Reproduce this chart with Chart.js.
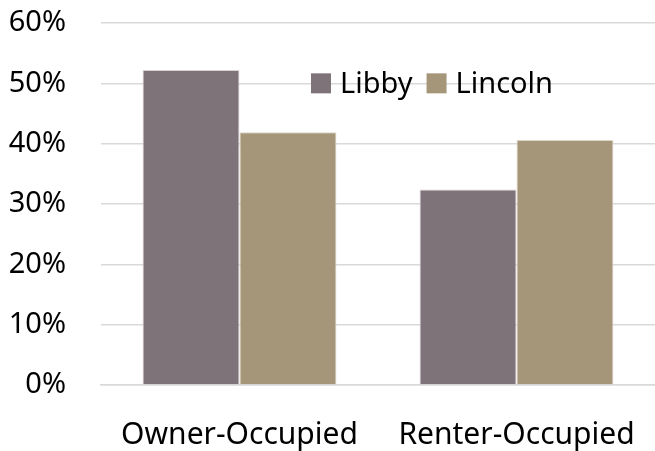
<!DOCTYPE html>
<html>
<head>
<meta charset="utf-8">
<script src="https://cdn.jsdelivr.net/npm/chart.js@4"></script>
<style>
  html, body { margin: 0; padding: 0; background: #fff; }
  #wrap { width: 655px; height: 451px; }
</style>
</head>
<body>
<div id="wrap"><canvas id="housingChart"></canvas></div>
<script>
// data
const categories = ['Owner-Occupied', 'Renter-Occupied'];
const libbyValues = [52.2, 32.4];
const lincolnValues = [41.9, 40.6];
const yTicks = [0, 10, 20, 30, 40, 50, 60];

const fontFamily = '"Noto Sans", "Open Sans", sans-serif';
const fontSize = 29;

// legend drawn inside the plot, like the original
const innerLegend = {
    id: 'innerLegend',
    afterDraw(chart) {
        const ctx = chart.ctx;
        const y = chart.scales.y.getPixelForValue(50);
        let x = 311;
        ctx.save();
        ctx.font = fontSize + 'px ' + fontFamily;
        ctx.textBaseline = 'middle';
        chart.data.datasets.forEach(ds => {
            ctx.fillStyle = ds.backgroundColor;
            ctx.fillRect(x, y - 10, 20, 20);
            x += 29;
            ctx.fillStyle = '#000';
            ctx.fillText(ds.label, x, y + 1);
            x += ctx.measureText(ds.label).width + 14;
        });
        ctx.restore();
    }
};

const ctx = document.getElementById('housingChart').getContext('2d');
let housingChart = new Chart(ctx, {
    type: 'bar',
    data: {
        labels: categories,
        datasets: [{
            label: 'Libby',
            data: libbyValues,
            backgroundColor: '#7f737a',
            borderColor: '#d8d2d5',
            borderWidth: 1,
        }, {
            label: 'Lincoln',
            data: lincolnValues,
            backgroundColor: '#a59679',
            borderColor: '#ddd5c6',
            borderWidth: 1,
        }],
    },
    options: {
        responsive: true,
        maintainAspectRatio: false,
        animation: false,
        layout: { padding: { top: 23, right: 0, bottom: 0, left: 4 } },
        datasets: {
            bar: { barPercentage: 1.0, categoryPercentage: 0.7 }
        },
        plugins: {
            legend: { display: false },
            tooltip: { enabled: false },
        },
        scales: {
            x: {
                afterFit(scale) {
                    scale.height = 66;
                    scale.paddingLeft = 0;
                    scale.paddingRight = 0;
                },
                grid: { display: false, drawTicks: false },
                border: { display: true, color: '#d9d9d9', width: 1.5 },
                ticks: {
                    color: '#000',
                    font: { family: fontFamily, size: 30 },
                    padding: 32,
                    maxRotation: 0,
                    autoSkip: false,
                },
            },
            y: {
                min: 0,
                max: 60,
                afterBuildTicks(axis) {
                    axis.ticks = yTicks.map(v => ({ value: v }));
                },
                afterFit(scale) {
                    scale.width = 97;
                    scale.paddingTop = 0;
                    scale.paddingBottom = 0;
                },
                grid: { color: '#d9d9d9', lineWidth: 1.5, drawTicks: false },
                border: { display: false },
                ticks: {
                    color: '#000',
                    font: { family: fontFamily, size: fontSize },
                    padding: 35,
                    callback: v => v + '%',
                },
            },
        },
    },
    plugins: [innerLegend],
});
</script>
</body>
</html>
